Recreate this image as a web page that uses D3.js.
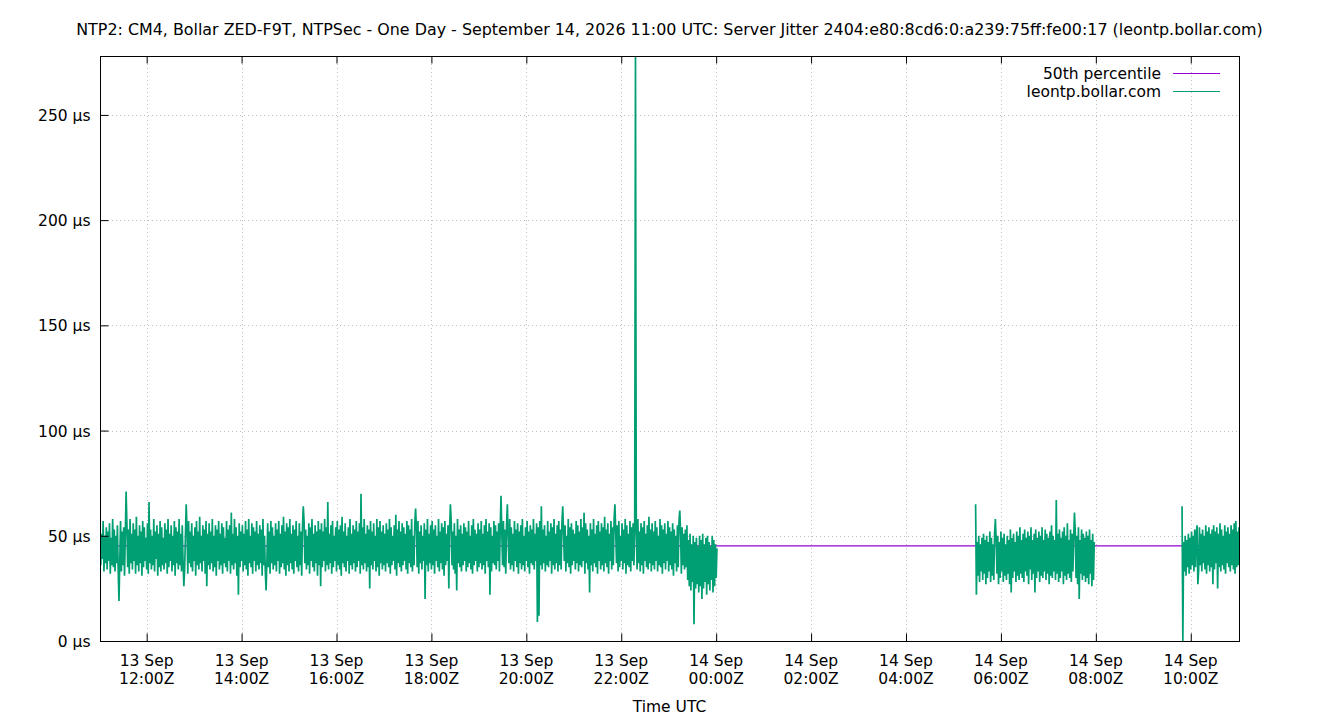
<!DOCTYPE html>
<html>
<head>
<meta charset="utf-8">
<script src="https://cdn.jsdelivr.net/npm/d3@7"></script>
<style>
  html, body { margin: 0; padding: 0; background: #fff; }
  svg { display: block; }
  text { font-family: "DejaVu Sans", sans-serif; fill: #000; }
</style>
</head>
<body>
<svg id="chart" width="1340" height="720"></svg>
<script>
// ---------------- data ----------------
const titleText = "NTP2: CM4, Bollar ZED-F9T, NTPSec - One Day - September 14, 2026 11:00 UTC: Server Jitter 2404:e80:8cd6:0:a239:75ff:fe00:17 (leontp.bollar.com)";
const xAxisTitle = "Time UTC";
const seriesNames = ["50th percentile", "leontp.bollar.com"];
const timeDomain = ["2026-09-13T11:01:00Z", "2026-09-14T11:01:00Z"];
const yMax = 278;
const yTickValues = [0, 50, 100, 150, 200, 250];
const medianJitter = 45.2; // µs, 50th percentile

const sampleStepMinutes = 1;

// segment 1: 13 Sep 11:01Z -> 14 Sep 00:01Z, server jitter (µs)
const seg1Start = "2026-09-13T11:01:00Z";
const seg1Values = [
  55,36,51,39,57,33,50,37,54,34, 52,38,56,32,49,36,58,35,53,33,
  50,37,55,34,19,38,57,33,52,36, 54,31,50,71,56,35,53,32,58,37,
  51,34,56,38,53,32,59,36,50,33, 55,37,52,31,57,35,54,38,49,34,
  56,32,66,37,53,34,50,36,58,33, 52,39,55,31,51,35,57,33,54,36,
  49,34,56,37,53,32,58,35,51,38, 55,33,50,36,57,31,54,37,52,34,
  58,36,51,33,55,38,26,34,50,65, 53,32,57,37,52,35,56,33,50,38,
  54,31,57,36,52,34,59,37,50,33, 55,38,53,32,57,26,51,36,56,34,
  52,37,58,33,50,35,55,31,53,38, 57,34,51,36,56,32,54,37,49,35,
  57,33,53,38,55,32,61,36,51,34, 58,37,54,31,50,22,56,35,52,38,
  55,33,51,36,57,34,53,31,58,37, 50,35,56,32,54,38,52,33,57,36,
  51,34,55,37,53,31,58,36,50,33, 24,38,56,35,52,32,57,37,54,34,
  50,36,56,33,53,38,57,32,51,35, 55,37,59,34,52,31,56,36,54,33,
  58,37,51,34,55,32,53,38,57,35, 50,33,56,36,52,31,54,64,57,37,
  53,34,50,36,56,32,54,38,58,35, 51,33,55,37,52,31,57,36,53,26,
  56,35,52,38,58,33,54,36,66,34, 51,37,55,32,57,35,50,38,54,33,
  57,36,53,34,55,31,59,37,52,35, 56,33,50,38,54,32,58,36,51,34,
  55,37,53,33,57,35,52,38,56,32, 70,36,54,34,58,37,51,33,55,35,
  53,25,57,36,52,34,56,38,50,33, 58,35,54,31,57,37,52,34,55,36,
  51,33,56,37,53,35,58,32,54,36, 50,38,55,34,60,31,53,37,57,35,
  52,33,56,36,54,38,51,34,57,32, 55,37,53,35,58,33,50,36,56,63,
  54,35,57,32,52,37,55,34,50,38, 56,20,53,36,58,33,51,37,55,34,
  57,36,53,32,55,38,50,35,58,33, 52,37,56,34,54,31,57,36,51,38,
  55,25,53,65,57,36,52,34,56,32, 50,24,58,37,53,35,55,33,51,36,
  56,38,54,33,52,35,57,37,50,34, 55,32,58,36,53,38,51,33,56,35,
  53,37,57,34,51,36,55,32,58,38, 52,35,56,22,54,33,50,37,57,36,
  55,34,52,38,56,33,54,69,51,36, 57,35,53,32,55,65,50,37,58,34,
  54,36,51,33,57,38,53,35,56,32, 52,37,55,34,58,36,50,33,54,38,
  57,35,52,32,55,37,53,36,58,34, 51,38,56,9,54,12,57,36,64,34,
  53,37,55,33,50,36,57,35,52,38, 56,32,54,36,58,34,51,37,55,33,
  57,36,53,34,56,64,52,38,55,33, 50,37,58,35,54,32,56,36,53,38,
  51,34,57,37,55,33,52,36,58,35, 54,38,61,32,56,37,53,34,50,23,
  56,36,53,33,58,37,51,35,55,32, 57,38,52,34,56,36,54,33,59,37,
  53,35,56,32,51,38,57,34,54,36, 58,65,52,37,55,33,57,35,50,38,
  56,34,53,37,58,32,55,36,51,35, 57,33,54,38,56,36,52,278,55,34,
  58,37,52,33,56,36,54,32,57,38, 51,35,55,34,59,37,53,33,56,36,
  52,34,57,38,54,33,50,36,58,35, 55,32,53,37,56,34,51,38,57,33,
  54,36,52,34,56,31,53,37,50,33, 55,35,57,62,52,32,54,36,51,34,
  53,35,55,29,48,26,51,24,46,28, 50,8,47,25,49,27,45,23,50,26,
  48,20,51,25,46,28,49,22,50,27, 47,24,45,29,50,23,48,26,46,30,
  44
];

// segment 2: 14 Sep 05:28Z -> 07:58Z
const seg2Start = "2026-09-14T05:28:00Z";
const seg2Values = [
  65,22,47,31,50,28,46,33,49,29, 51,32,48,27,50,30,47,33,52,28,
  49,31,46,29,51,58,48,32,50,27, 47,30,52,33,49,28,51,31,46,29,
  50,32,48,27,53,23,49,30,51,33, 47,28,52,31,50,29,54,32,48,30,
  51,28,53,33,49,31,52,27,50,34, 54,29,48,32,51,23,53,30,49,33,
  52,28,50,31,54,30,48,33,53,29, 51,32,49,27,52,31,55,30,50,33,
  48,29,67,32,51,28,53,30,49,33, 52,27,54,31,50,29,56,32,48,30,
  53,28,51,33,49,61,52,30,50,27, 54,20,48,32,53,29,51,31,49,28,
  52,30,50,27,53,32,48,26,51,29, 47
];

// segment 3: 14 Sep 09:49Z -> 11:01Z
const seg3Start = "2026-09-14T09:49:00Z";
const seg3Values = [
  64,0,47,33,50,31,48,35,51,32, 49,34,52,36,50,33,53,35,51,55,
  27,34,54,36,51,33,53,37,50,34, 55,32,52,36,54,33,51,35,53,27,
  55,34,52,37,54,25,51,35,56,33, 53,36,50,34,55,32,52,37,54,35,
  51,33,55,36,53,34,56,32,57,35, 52,36,54
];

// ---------------- chart ----------------
const colors = { median: "#9400d3", server: "#009e73" };
const plot = { left: 100, right: 1239, top: 56, bottom: 641 };
const labelSize = "15.5px";

const svg = d3.select("#chart");

const x = d3.scaleUtc()
  .domain(timeDomain.map(d => new Date(d)))
  .range([plot.left, plot.right]);
const y = d3.scaleLinear()
  .domain([0, yMax])
  .range([plot.bottom, plot.top]);

function toPoints(start, values) {
  const t0 = new Date(start).getTime();
  return values.map((v, i) => ({ t: new Date(t0 + i * sampleStepMinutes * 60000), v }));
}
const segments = [
  toPoints(seg1Start, seg1Values),
  toPoints(seg2Start, seg2Values),
  toPoints(seg3Start, seg3Values)
];

const xTicks = x.ticks(d3.utcHour.every(2));
const fmtDay = d3.utcFormat("%-d %b");
const fmtTime = d3.utcFormat("%H:%MZ");

// title
svg.append("text")
  .attr("x", (plot.left + plot.right) / 2)
  .attr("y", 34.5)
  .attr("text-anchor", "middle")
  .style("font-size", "15.9px")
  .text(titleText);

// grid
const grid = svg.append("g")
  .attr("stroke", "#c0c0c0")
  .attr("stroke-width", 1)
  .attr("stroke-dasharray", "1,3");
grid.selectAll("line.gx").data(xTicks).join("line")
  .attr("x1", d => Math.round(x(d)) + 0.5).attr("x2", d => Math.round(x(d)) + 0.5)
  .attr("y1", plot.top).attr("y2", plot.bottom);
grid.selectAll("line.gy").data(yTickValues.filter(d => d > 0)).join("line")
  .attr("x1", plot.left).attr("x2", plot.right)
  .attr("y1", d => Math.round(y(d)) + 0.5).attr("y2", d => Math.round(y(d)) + 0.5);

// clip
svg.append("defs").append("clipPath").attr("id", "clip")
  .append("rect")
  .attr("x", plot.left).attr("y", plot.top)
  .attr("width", plot.right - plot.left).attr("height", plot.bottom - plot.top);

const data = svg.append("g").attr("clip-path", "url(#clip)");

// median line
data.append("path")
  .datum([{ t: x.domain()[0], v: medianJitter }, { t: x.domain()[1], v: medianJitter }])
  .attr("fill", "none")
  .attr("stroke", colors.median)
  .attr("stroke-width", 1.2)
  .attr("d", d3.line().x(d => x(d.t)).y(d => y(d.v)));

// server jitter
const line = d3.line().x(d => x(d.t)).y(d => y(d.v));
data.selectAll("path.srv").data(segments).join("path")
  .attr("class", "srv")
  .attr("fill", "none")
  .attr("stroke", colors.server)
  .attr("stroke-width", 1.7)
  .attr("stroke-linejoin", "bevel")
  .attr("d", line);

// axes frame
svg.append("rect")
  .attr("x", plot.left + 0.5).attr("y", plot.top + 0.5)
  .attr("width", plot.right - plot.left).attr("height", plot.bottom - plot.top)
  .attr("fill", "none").attr("stroke", "#000").attr("stroke-width", 1);

// x ticks (bottom, inward) and mirrored top ticks
const xAxisB = svg.append("g")
  .attr("transform", `translate(0,${plot.bottom + 0.5})`)
  .call(d3.axisBottom(x).tickValues(xTicks).tickSizeInner(-8).tickSizeOuter(0).tickFormat(""));
const xAxisT = svg.append("g")
  .attr("transform", `translate(0,${plot.top + 0.5})`)
  .call(d3.axisTop(x).tickValues(xTicks).tickSizeInner(-7).tickSizeOuter(0).tickFormat(""));
[xAxisB, xAxisT].forEach(g => {
  g.select(".domain").remove();
  g.selectAll(".tick line").attr("stroke", "#000");
});

// x tick labels (two lines)
const xl = svg.append("g");
xl.selectAll("text.d").data(xTicks).join("text")
  .attr("x", d => x(d)).attr("y", 666)
  .attr("text-anchor", "middle").style("font-size", labelSize)
  .text(d => fmtDay(d));
xl.selectAll("text.t").data(xTicks).join("text")
  .attr("x", d => x(d)).attr("y", 684)
  .attr("text-anchor", "middle").style("font-size", labelSize)
  .text(d => fmtTime(d));

// x axis title
svg.append("text")
  .attr("x", (plot.left + plot.right) / 2).attr("y", 712)
  .attr("text-anchor", "middle").style("font-size", labelSize)
  .text(xAxisTitle);

// y axis (left, inward)
const yAxis = svg.append("g")
  .attr("transform", `translate(${plot.left + 0.5},0)`)
  .call(d3.axisLeft(y).tickValues(yTickValues).tickSizeInner(-8).tickSizeOuter(0)
    .tickFormat(d => d + " µs"));
yAxis.select(".domain").remove();
yAxis.selectAll(".tick line").attr("stroke", "#000");
yAxis.selectAll(".tick text")
  .style("font-family", "'DejaVu Sans', sans-serif")
  .style("font-size", labelSize)
  .attr("fill", "#000")
  .attr("x", -10)
  .attr("dy", "0.36em");

// legend
const legendColors = [colors.median, colors.server];
const lg = svg.append("g");
const legendRows = seriesNames.map((n, i) => ({ n, c: legendColors[i], i }));
lg.selectAll("text").data(legendRows).join("text")
  .attr("x", 1161).attr("y", d => 78.5 + d.i * 18)
  .attr("text-anchor", "end").style("font-size", labelSize)
  .text(d => d.n);
lg.selectAll("line").data(legendRows).join("line")
  .attr("x1", 1173).attr("x2", 1220)
  .attr("y1", d => 73.5 + d.i * 18).attr("y2", d => 73.5 + d.i * 18)
  .attr("stroke", d => d.c).attr("stroke-width", 1);
</script>
</body>
</html>
